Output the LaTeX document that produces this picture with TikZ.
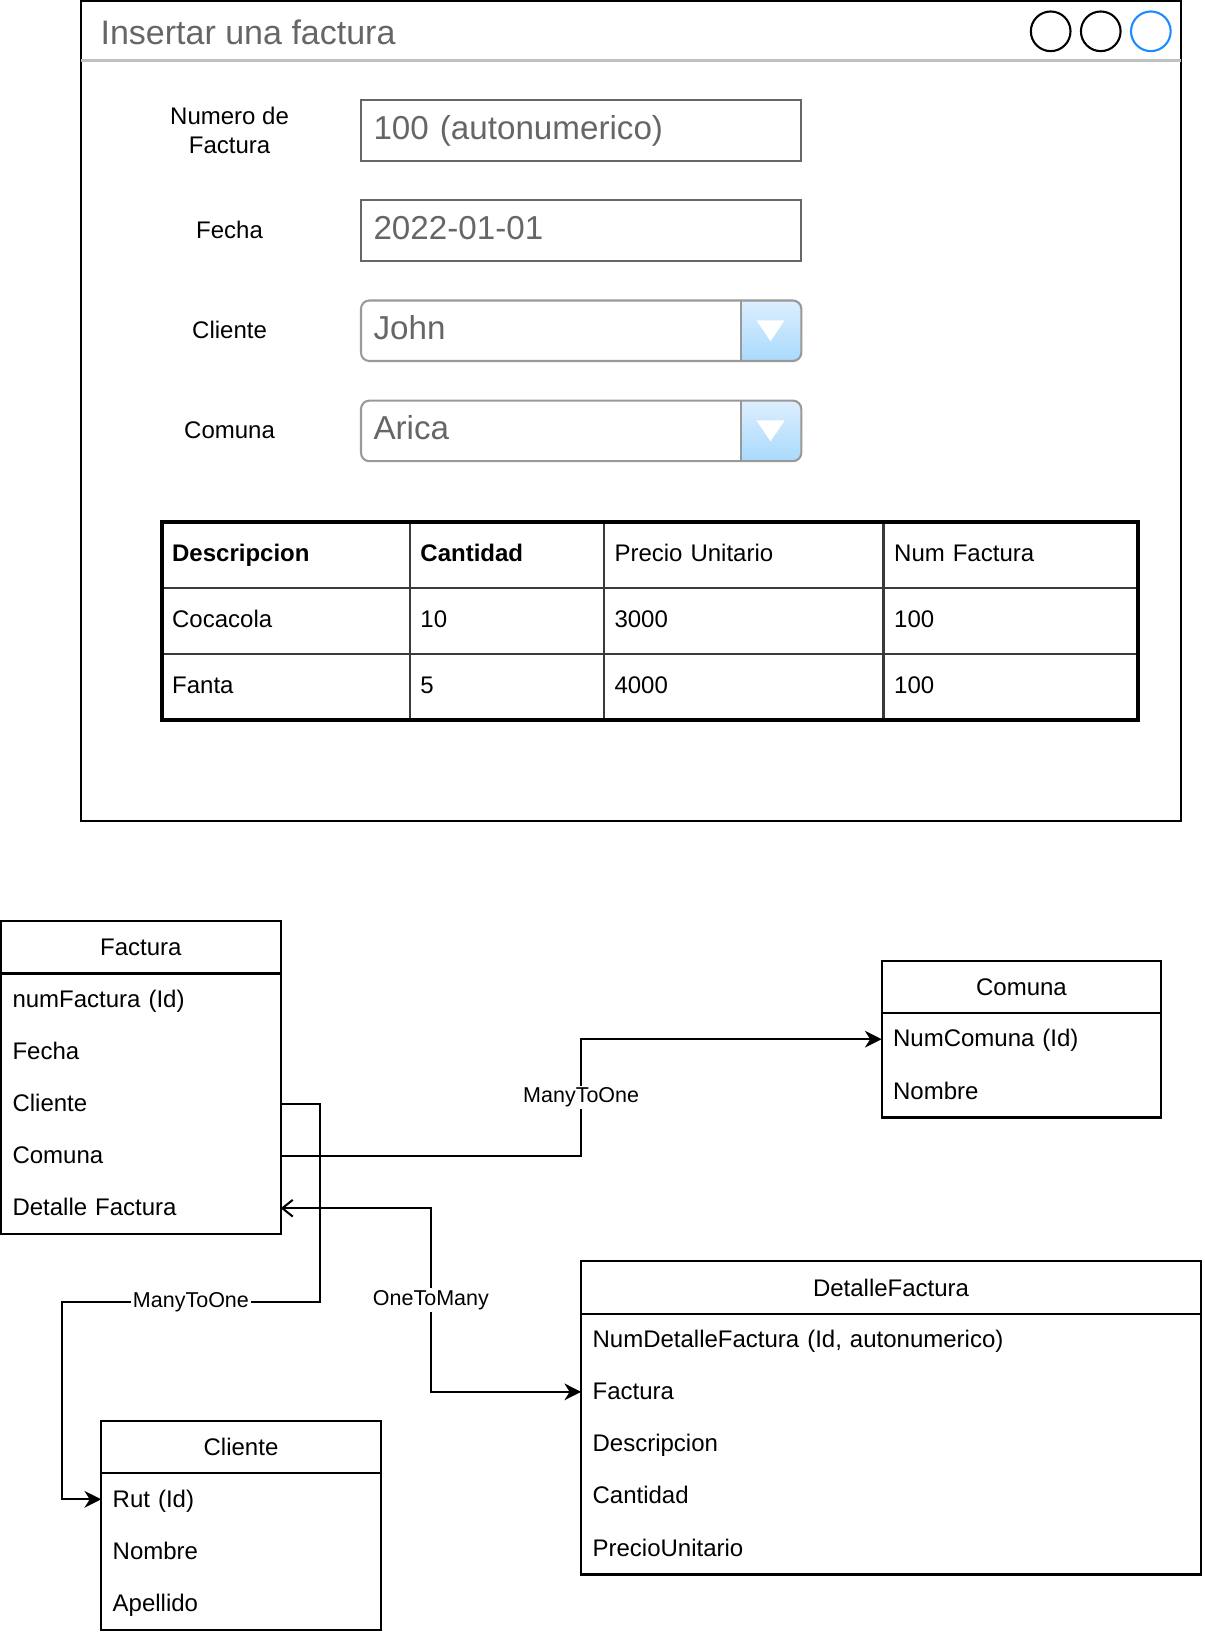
\documentclass[tikz,border=0pt]{standalone}
\usepackage{fontspec}
\setmainfont{Liberation Sans}
\usetikzlibrary{arrows.meta,positioning,calc}
\definecolor{wintitle}{HTML}{666666}
\definecolor{winrule}{HTML}{C0C0C0}
\definecolor{fieldrule}{HTML}{666666}
\definecolor{comborule}{HTML}{999999}
\definecolor{btntop}{HTML}{DDEEFF}
\definecolor{btnbot}{HTML}{A8DAFC}
\definecolor{dotblue}{HTML}{1A8CFF}
\definecolor{gridrule}{HTML}{3A3A3A}
\newcommand{\fsnorm}{\fontsize{11.5}{14}\selectfont}
\newcommand{\fsbig}{\fontsize{15.9}{18}\selectfont}
\newcommand{\fstitle}{\fontsize{16.3}{19}\selectfont}
\newcommand{\fslink}{\fontsize{10.3}{12}\selectfont}

\begin{document}
\begin{tikzpicture}[
  x=0.5pt, y=-0.5pt,
  font=\fsnorm,
  win/.style={draw, line width=1pt, minimum width=527pt, minimum height=393pt,
              inner sep=0pt, outer sep=0pt},
  dot/.style={circle, draw, line width=1pt, minimum size=19pt, inner sep=0pt},
  flabel/.style={align=center},
  field/.style={draw=fieldrule, line width=1pt, minimum width=211pt, minimum height=29pt,
                inner xsep=6pt, inner ysep=0pt, text width=199pt, align=left, text=wintitle,
                text height=11.5pt, text depth=3pt, font=\fsbig, outer sep=0pt},
  combo/.style={field, draw=none},
  cell/.style={draw=gridrule, line width=1.2pt, minimum height=31.7pt, inner xsep=5pt,
               text width=#1, align=left, text height=1.5ex, text depth=.25ex,
               outer sep=0pt},
  ent/.style={draw, line width=1pt, minimum width=#1, minimum height=25pt,
              inner sep=0pt, outer sep=0pt},
  row/.style={minimum height=25pt, inner xsep=5.5pt, text width=#1, align=left,
              text height=1.5ex, text depth=.1ex, outer sep=0pt},
  flow/.style={-{Stealth[length=8pt, width=8pt, inset=2.5pt]}, line width=1pt},
  link/.style={{Straight Barb[length=5pt, width=8pt]}-{Stealth[length=8pt, width=8pt, inset=2.5pt]},
               line width=1pt},
  rel/.style={fill=white, font=\fslink, inner sep=1pt},
]
\useasboundingbox (0,0) rectangle (1154,1568);

% form window
\node[win, anchor=north west] (win) at (78,1) {};
\draw[winrule, line width=1pt] ([yshift=-28.5pt]win.north west) -- ([yshift=-28.5pt]win.north east);
\node[anchor=west, inner sep=0pt, text=wintitle, font=\fstitle] (title) at (96,31) {Insertar una factura};
\node[dot] (dotA) at (1007,30) {};
\node[dot] (dotB) at (1055,30) {};
\node[dot, draw=dotblue] (dotC) at (1103,30) {};

\node[flabel] (lblNum) at (220,125) {Numero de\\Factura};
\node[flabel] (lblFec) at (220,220) {Fecha};
\node[flabel] (lblCli) at (220,316) {Cliente};
\node[flabel] (lblCom) at (220,412) {Comuna};

\node[field] (fNum) at (557,125) {100 (autonumerico)};
\node[field] (fFec) at (557,221) {2022-01-01};
\node[combo] (cbCli) at (557,317) {John};
\node[combo] (cbCom) at (557,413) {Arica};

\foreach \cb in {cbCli,cbCom}{
  \begin{scope}
    \clip[rounded corners=4pt] (\cb.south west) rectangle (\cb.north east);
    \shade[top color=btntop, bottom color=btnbot] ([xshift=-29pt]\cb.south east) rectangle (\cb.north east);
  \end{scope}
  \draw[comborule, line width=1pt, rounded corners=4pt] (\cb.south west) rectangle (\cb.north east);
  \draw[comborule, line width=1pt] ([xshift=-29pt]\cb.north east) -- ([xshift=-29pt]\cb.south east);
  \fill[white] ([xshift=-21.5pt, yshift=5pt]\cb.east) -- ([xshift=-8pt, yshift=5pt]\cb.east)
    -- ([xshift=-14.75pt, yshift=-5pt]\cb.east) -- cycle;
}

% table
\node[cell=109pt, anchor=north west] (tH1) at (155,500) {\textbf{Descripcion}};
\node[cell=83pt, right=0pt of tH1] (tH2) {\textbf{Cantidad}};
\node[cell=124pt, right=0pt of tH2] (tH3) {Precio Unitario};
\node[cell=112pt, right=0pt of tH3] (tH4) {Num Factura};
\node[cell=109pt, below=0pt of tH1] (t11) {Cocacola};
\node[cell=83pt, below=0pt of tH2] (t12) {10};
\node[cell=124pt, below=0pt of tH3] (t13) {3000};
\node[cell=112pt, below=0pt of tH4] (t14) {100};
\node[cell=109pt, below=0pt of t11] (t21) {Fanta};
\node[cell=83pt, below=0pt of t12] (t22) {5};
\node[cell=124pt, below=0pt of t13] (t23) {4000};
\node[cell=112pt, below=0pt of t14] (t24) {100};
\draw[line width=1.8pt] (tH1.north west) rectangle (t24.south east);

% entities
\node[ent=134pt, anchor=north west] (facH) at (1,883) {Factura};
\node[row=123pt, below=0pt of facH] (facId) {numFactura (Id)};
\node[row=123pt, below=0pt of facId] (facFec) {Fecha};
\node[row=123pt, below=0pt of facFec] (facCli) {Cliente};
\node[row=123pt, below=0pt of facCli] (facCom) {Comuna};
\node[row=123pt, below=0pt of facCom] (facDet) {Detalle Factura};
\draw[line width=1pt] (facH.north west) rectangle (facDet.south east);

\node[ent=134pt, anchor=north west] (comH) at (845,921) {Comuna};
\node[row=123pt, below=0pt of comH] (comId) {NumComuna (Id)};
\node[row=123pt, below=0pt of comId] (comNom) {Nombre};
\draw[line width=1pt] (comH.north west) rectangle (comNom.south east);

\node[ent=297pt, anchor=north west] (detH) at (557,1209) {DetalleFactura};
\node[row=286pt, below=0pt of detH] (detId) {NumDetalleFactura (Id, autonumerico)};
\node[row=286pt, below=0pt of detId] (detFac) {Factura};
\node[row=286pt, below=0pt of detFac] (detDes) {Descripcion};
\node[row=286pt, below=0pt of detDes] (detCan) {Cantidad};
\node[row=286pt, below=0pt of detCan] (detPre) {PrecioUnitario};
\draw[line width=1pt] (detH.north west) rectangle (detPre.south east);

\node[ent=134pt, anchor=north west] (cliH) at (97,1362) {Cliente};
\node[row=123pt, below=0pt of cliH] (cliRut) {Rut (Id)};
\node[row=123pt, below=0pt of cliRut] (cliNom) {Nombre};
\node[row=123pt, below=0pt of cliNom] (cliApe) {Apellido};
\draw[line width=1pt] (cliH.north west) rectangle (cliApe.south east);

% relations
\draw[flow] (facCom.east) -- ++(288,0) |- node[rel, pos=0.25]{ManyToOne} (comId.west);
\draw[flow] (facCli.east) -- ++(38,0) -- ++(0,190) -- node[rel]{ManyToOne} ++(-248,0) |- (cliRut.west);
\draw[link] (facDet.east) -- ++(144,0) |- node[rel, pos=0.25]{OneToMany} (detFac.west);

\end{tikzpicture}
\end{document}
